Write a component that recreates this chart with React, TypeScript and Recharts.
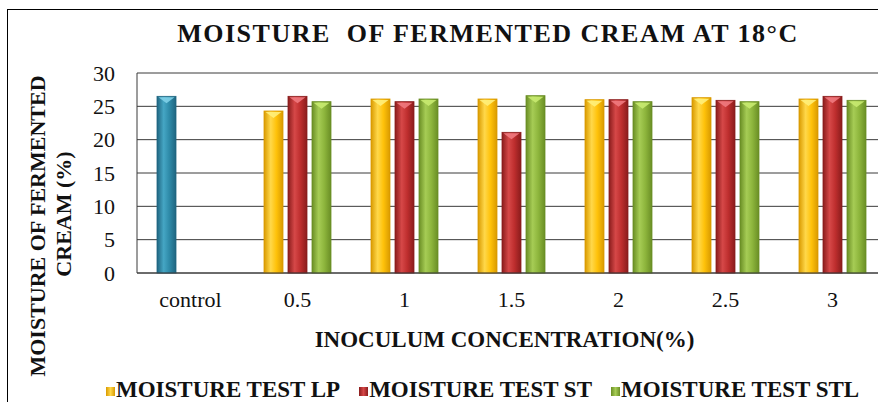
import React from 'react'
import { BarChart, Bar, XAxis, YAxis, CartesianGrid, Legend, Cell, Label } from 'recharts'

const categories = ['control', '0.5', '1', '1.5', '2', '2.5', '3']
const moistureLP = [26.5, 24.3, 26.1, 26.1, 26.0, 26.3, 26.1]
const moistureST = [null, 26.5, 25.7, 21.1, 26.0, 25.9, 26.5]
const moistureSTL = [null, 25.7, 26.1, 26.6, 25.7, 25.7, 25.9]
const yTicks = [0, 5, 10, 15, 20, 25, 30]

const seriesNames = ['MOISTURE TEST LP', 'MOISTURE TEST ST', 'MOISTURE TEST STL']

const serif = "'Liberation Serif', 'Times New Roman', Times, 'DejaVu Serif', 'Noto Serif', serif"

// edge / mid / highlight colours for the cylinder-ish bars
const palette: Record<string, { edge: string; mid: string; light: string; tip: string }> = {
  gLP: { edge: '#D99A00', mid: '#FFC20A', light: '#FFD84A', tip: '#FFF07A' },
  gST: { edge: '#8A1C1C', mid: '#BE2E2E', light: '#D64848', tip: '#F07A80' },
  gSTL: { edge: '#6A8E25', mid: '#8DB53C', light: '#A6CC55', tip: '#C8EA70' },
  gCtrl: { edge: '#1F6580', mid: '#2E8AA8', light: '#45A6C4', tip: '#7FD0E8' },
}

const data = categories.map((c, i) => ({
  name: c,
  lp: moistureLP[i],
  st: moistureST[i],
  stl: moistureSTL[i],
}))

function CylBar(props: any) {
  const { x, y, width, height, fill } = props
  if (!height || height <= 0) return null
  const key = String(fill).replace('url(#', '').replace(')', '')
  const p = palette[key] || palette.gLP
  return (
    <g>
      <rect x={x} y={y} width={width} height={height} fill={fill} stroke={p.edge} strokeWidth={0.8} />
      <polygon points={`${x + 1.5},${y + 1} ${x + width - 1.5},${y + 1} ${x + width / 2},${y + 7}`} fill={p.tip} opacity={0.9} />
    </g>
  )
}

function YTitle() {
  const cy = 226
  return (
    <g>
      <text x={45} y={cy} transform={`rotate(-90 45 ${cy})`} textAnchor="middle" fontWeight="bold" fontSize={22} fill="#111" style={{ fontFamily: serif }}>
        MOISTURE OF FERMENTED
      </text>
      <text x={71} y={cy - 12} transform={`rotate(-90 71 ${cy - 12})`} textAnchor="middle" fontWeight="bold" fontSize={22} fill="#111" style={{ fontFamily: serif }}>
        CREAM (%)
      </text>
    </g>
  )
}

function LegendBox() {
  const keys = ['gLP', 'gST', 'gSTL']
  return (
    <div style={{ display: 'flex', fontFamily: serif, fontWeight: 'bold', fontSize: 23, lineHeight: '24px', color: '#111', whiteSpace: 'nowrap' }}>
      {seriesNames.map((n, i) => (
        <div key={n} style={{ display: 'flex', alignItems: 'center', marginRight: 19 }}>
          <span
            style={{
              display: 'inline-block',
              width: 9,
              height: 9,
              marginRight: 1,
              marginTop: 2,
              background: `linear-gradient(90deg, ${palette[keys[i]].edge}, ${palette[keys[i]].light}, ${palette[keys[i]].edge})`,
            }}
          />
          {n}
        </div>
      ))}
    </div>
  )
}

export default function App() {
  return (
    <div style={{ position: 'absolute', left: 0, top: 0, width: 878, height: 402, overflow: 'hidden', background: '#fff', fontFamily: serif }}>
      <div style={{ position: 'absolute', left: 7, top: 9, width: 900, height: 420, borderLeft: '1px solid #000', borderTop: '1px solid #000' }} />
      <div
        style={{
          position: 'absolute',
          left: 0,
          top: 19,
          width: 976,
          textAlign: 'center',
          fontFamily: serif,
          fontWeight: 'bold',
          fontSize: 26,
          letterSpacing: 1.5,
          color: '#111',
          whiteSpace: 'pre',
        }}
      >
        MOISTURE  OF FERMENTED CREAM AT 18°C
      </div>
      <BarChart
        width={900}
        height={402}
        data={data}
        margin={{ top: 73, right: 14, left: 0, bottom: 0 }}
        barSize={19}
        barGap={5}
        style={{ position: 'absolute', left: 0, top: 0, fontFamily: serif }}
      >
        <defs>
          {Object.keys(palette).map((k) => (
            <linearGradient key={k} id={k} x1="0" y1="0" x2="1" y2="0">
              <stop offset="0%" stopColor={palette[k].edge} />
              <stop offset="35%" stopColor={palette[k].light} />
              <stop offset="65%" stopColor={palette[k].mid} />
              <stop offset="100%" stopColor={palette[k].edge} />
            </linearGradient>
          ))}
        </defs>
        <CartesianGrid vertical={false} stroke="#3a3a3a" strokeWidth={1} />
        <XAxis
          dataKey="name"
          height={129}
          tickSize={0}
          tickMargin={18}
          axisLine={{ stroke: '#3a3a3a' }}
          tick={{ fontFamily: serif, fontSize: 22, fill: '#111' }}
          interval={0}
        >
          <Label
            value="INOCULUM CONCENTRATION(%)"
            position="insideTop"
            offset={58}
            dx={-7}
            style={{ fontFamily: serif, fontWeight: 'bold', fontSize: 23, fill: '#111' }}
          />
        </XAxis>
        <YAxis
          width={137}
          domain={[0, 30]}
          ticks={yTicks}
          tickSize={0}
          tickMargin={22}
          axisLine={{ stroke: '#3a3a3a' }}
          tick={{ fontFamily: serif, fontSize: 22, fill: '#111' }}
        >
          <Label content={<YTitle />} />
        </YAxis>
        <Legend
          layout="horizontal"
          verticalAlign="middle"
          align="center"
          wrapperStyle={{ top: 378, left: 106, width: 790 }}
          content={<LegendBox />}
        />
        <Bar dataKey="lp" name={seriesNames[0]} fill="url(#gLP)" shape={<CylBar />} isAnimationActive={false}>
          {data.map((d, i) => (
            <Cell key={i} fill={i === 0 ? 'url(#gCtrl)' : 'url(#gLP)'} />
          ))}
        </Bar>
        <Bar dataKey="st" name={seriesNames[1]} fill="url(#gST)" shape={<CylBar />} isAnimationActive={false} />
        <Bar dataKey="stl" name={seriesNames[2]} fill="url(#gSTL)" shape={<CylBar />} isAnimationActive={false} />
      </BarChart>
    </div>
  )
}
